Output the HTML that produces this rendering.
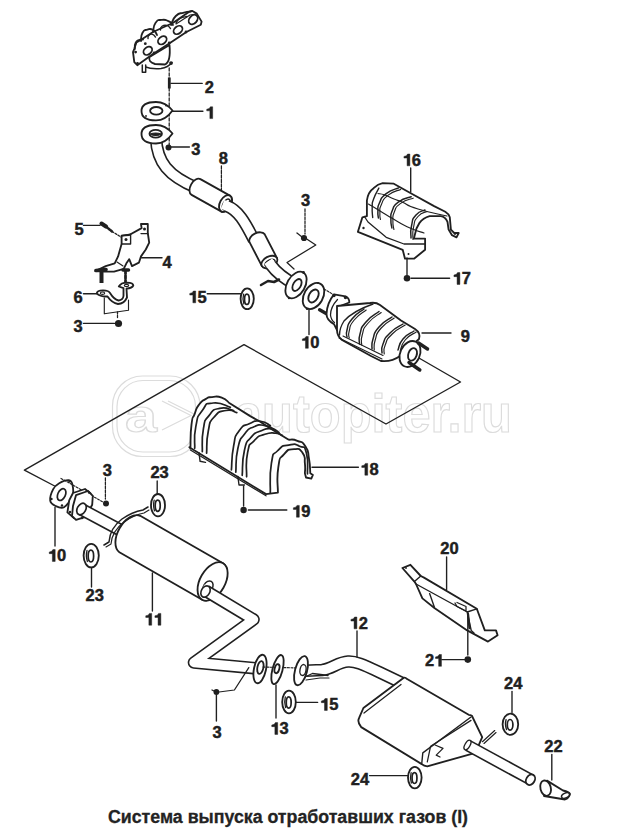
<!DOCTYPE html>
<html><head><meta charset="utf-8">
<style>
html,body{margin:0;padding:0;background:#fff;width:625px;height:832px;overflow:hidden}
svg{display:block}
.t{font-family:"Liberation Sans",sans-serif;font-weight:bold;fill:#202020;stroke:#202020;stroke-width:0.45;text-anchor:middle}
.wm{font-family:"Liberation Sans",sans-serif;font-weight:bold;fill:none;stroke:#dcdcdc;stroke-width:1.2}
</style></head><body>
<svg width="625" height="832" viewBox="0 0 625 832">
<rect x="112.5" y="376" width="87.5" height="80.5" rx="30" class="wm"/>
<rect x="117" y="380.5" width="78.5" height="71.5" rx="26" class="wm"/>
<text x="125" y="432" class="wm" font-size="46" textLength="32" lengthAdjust="spacingAndGlyphs">a</text>
<path d="M162 401 L191 415.5 L162 430 M168 401 L197 415.5" class="wm"/>
<text x="234" y="432" class="wm" font-size="54" textLength="278" lengthAdjust="spacingAndGlyphs">autopiter.ru</text>
<path d="M412.0 354.0 L460.5 382.0 L386.0 424.0 L244.0 344.6 L24.4 470.2 L57.5 487.5" fill="none" stroke="#202020" stroke-width="1.38" stroke-linejoin="round" stroke-linecap="round" />
<path d="M62.0 490.0 L76.0 500.0" fill="none" stroke="#202020" stroke-width="1.15" stroke-linejoin="round" stroke-linecap="round" stroke-dasharray="2 2" />
<path d="M149.5 57 Q148 62 155 64 L165 64.5 Q171 62 169.5 45 Z" fill="#fff" stroke="#202020" stroke-width="1.84" stroke-linejoin="round" stroke-linecap="round" />
<path d="M144 66.5 Q152 69.5 161 68.5 Q168 67.5 172 62.5" fill="none" stroke="#202020" stroke-width="1.49" stroke-linejoin="round" stroke-linecap="round" />
<circle cx="171" cy="63.1" r="1.9" fill="#202020"/>
<path d="M133.0 52.1 L134.3 48.8 L136.4 42.5 L141.5 39.5 L153.0 32.0 L172.8 23.0 L189.6 11.6 L192.0 10.8 L196.8 13.6 L201.6 21.6 L200.8 24.8 L186.4 32.0 L169.6 43.2 L153.3 53.8 L137.3 65.2 L134.3 62.2 Z" fill="#fff" stroke="#202020" stroke-width="1.84" stroke-linejoin="round" stroke-linecap="round" />
<path d="M134.8 49.0 C135.1 47.0 134.2 46.0 135.6 43.0 C137.0 40.0 136.5 41.2 139.0 40.0 C141.5 38.8 141.7 39.7 143.0 39.5" fill="none" stroke="#202020" stroke-width="1.84" stroke-linejoin="round" stroke-linecap="round" />
<path d="M141.0 41.0 C141.5 38.3 140.3 36.8 142.4 33.0 C144.5 29.2 143.8 30.6 147.4 29.6 C151.0 28.6 150.1 28.3 153.3 30.1 C156.5 31.9 155.8 33.4 157.0 35.0" fill="none" stroke="#202020" stroke-width="1.84" stroke-linejoin="round" stroke-linecap="round" />
<path d="M153.0 32.0 C153.9 28.9 152.7 26.7 155.6 22.7 C158.5 18.7 157.4 20.4 161.7 19.9 C166.0 19.4 164.6 19.5 168.4 21.2 C172.2 22.9 171.5 23.7 173.0 25.0" fill="none" stroke="#202020" stroke-width="1.84" stroke-linejoin="round" stroke-linecap="round" />
<path d="M171.0 25.0 C172.6 22.0 171.5 20.1 175.8 16.0 C180.1 11.9 178.9 14.1 184.0 12.6 C189.1 11.1 188.7 11.9 191.0 11.5" fill="none" stroke="#202020" stroke-width="1.84" stroke-linejoin="round" stroke-linecap="round" />
<path d="M148.0 38.5 C148.3 37.5 147.3 36.9 148.8 35.5 C150.3 34.1 150.2 33.8 152.4 34.3 C154.6 34.8 154.5 36.1 155.5 37.0" fill="none" stroke="#202020" stroke-width="1.38" stroke-linejoin="round" stroke-linecap="round" />
<path d="M160.5 30.0 C160.9 28.8 159.7 28.0 161.8 26.5 C163.9 25.0 163.8 24.7 166.7 25.4 C169.6 26.1 169.2 27.5 170.5 28.5" fill="none" stroke="#202020" stroke-width="1.38" stroke-linejoin="round" stroke-linecap="round" />
<path d="M176.0 23.0 C177.3 21.5 176.3 20.7 180.0 18.5 C183.7 16.3 184.7 17.2 187.0 16.5" fill="none" stroke="#202020" stroke-width="1.38" stroke-linejoin="round" stroke-linecap="round" />
<path d="M176.0 24.0 L190.0 15.0 L196.0 14.0" fill="none" stroke="#202020" stroke-width="1.15" stroke-linejoin="round" stroke-linecap="round" />
<ellipse cx="147.8" cy="50.8" rx="4.8" ry="3.5" transform="rotate(-40 147.8 50.8)" fill="#fff" stroke="#202020" stroke-width="1.84"/>
<ellipse cx="162.3" cy="40.3" rx="4.8" ry="3.5" transform="rotate(-40 162.3 40.3)" fill="#fff" stroke="#202020" stroke-width="1.84"/>
<ellipse cx="178" cy="30" rx="5" ry="3.5" transform="rotate(-40 178 30)" fill="#fff" stroke="#202020" stroke-width="1.84"/>
<ellipse cx="193.2" cy="19.6" rx="5.3" ry="3.8" transform="rotate(-50 193.2 19.6)" fill="#fff" stroke="#202020" stroke-width="1.84"/>
<circle cx="135.6" cy="52.1" r="1.4" fill="#202020"/>
<circle cx="145.3" cy="43.7" r="1.4" fill="#202020"/>
<circle cx="154.1" cy="53" r="1.4" fill="#202020"/>
<circle cx="169.2" cy="42.9" r="1.4" fill="#202020"/>
<circle cx="186" cy="32" r="1.4" fill="#202020"/>
<circle cx="137.5" cy="63.5" r="1.4" fill="#202020"/>
<path d="M142.3 65.0 L142.3 72.3 L145.7 72.3 L145.7 65.0" fill="#fff" stroke="#202020" stroke-width="1.49" stroke-linejoin="round" stroke-linecap="round" />
<path d="M169.2 68.0 L169.2 146.0" fill="none" stroke="#202020" stroke-width="1.26" stroke-linejoin="round" stroke-linecap="round" stroke-dasharray="3 2" />
<rect x="167.9" y="77.5" width="2.8" height="11" fill="#202020"/>
<path d="M171.0 83.4 L202.2 83.4" fill="none" stroke="#202020" stroke-width="1.38" stroke-linejoin="round" stroke-linecap="round" />
<text x="209.30" y="93" class="t" font-size="16.5">2</text>
<path d="M141.5 111 C141.5 104 148 102 156 102 C163 102 168 105 172.5 110.5 C168 117 163 120.4 156 120.4 C148 120.4 141.5 118 141.5 111 Z" fill="#fff" stroke="#202020" stroke-width="1.84" stroke-linejoin="round" stroke-linecap="round" />
<ellipse cx="156.3" cy="110.8" rx="6.2" ry="3.8" transform="rotate(0 156.3 110.8)" fill="#fff" stroke="#202020" stroke-width="1.84"/>
<circle cx="146" cy="116" r="0.9" fill="#202020"/>
<circle cx="166" cy="105.5" r="0.9" fill="#202020"/>
<path d="M172.5 111.2 L202.9 111.2" fill="none" stroke="#202020" stroke-width="1.38" stroke-linejoin="round" stroke-linecap="round" />
<path d="M212.67 106.80 L212.67 118.60 L209.87 118.60 L209.87 110.84 L206.73 110.84 L206.73 109.19 Q209.87 109.03 210.36 106.80 Z" fill="#202020" stroke="#202020" stroke-width="0.45"/>
<path d="M156 138 C157 162 168 176 197 188" fill="none" stroke="#202020" stroke-width="12.6" stroke-linejoin="round" stroke-linecap="butt"/>
<path d="M156 138 C157 162 168 176 197 188" fill="none" stroke="#fff" stroke-width="9.4" stroke-linejoin="round" stroke-linecap="square"/>
<path d="M141.5 134 C141.5 127 148 125 156 125 C163 125 168 128 172.5 133.5 C168 140 163 143.5 156 143.5 C148 143.5 141.5 141 141.5 134 Z" fill="#fff" stroke="#202020" stroke-width="1.84" stroke-linejoin="round" stroke-linecap="round" />
<ellipse cx="155.7" cy="133.8" rx="6.3" ry="3.9" transform="rotate(0 155.7 133.8)" fill="#fff" stroke="#202020" stroke-width="1.72"/>
<path d="M150 134 Q155.7 137 161.4 134 Q155.7 132 150 134 Z" fill="#202020" stroke="#202020" stroke-width="1.15" stroke-linejoin="round" stroke-linecap="round" />
<circle cx="168.5" cy="147.5" r="3" fill="#202020"/>
<path d="M171.0 147.0 L189.4 147.0" fill="none" stroke="#202020" stroke-width="1.38" stroke-linejoin="round" stroke-linecap="round" />
<text x="195.80" y="155" class="t" font-size="16.5">3</text>
<text x="223.40" y="164" class="t" font-size="16.5">8</text>
<path d="M221.4 166.0 L221.4 192.0" fill="none" stroke="#202020" stroke-width="1.26" stroke-linejoin="round" stroke-linecap="round" stroke-dasharray="3 1.5" />
<path d="M191.6 194.9 L221.1 211.4 A5.5 9 29.2 0 0 229.9 195.6 L200.4 179.1 A5.5 9 29.2 0 0 191.6 194.9 Z" fill="#fff" stroke="#202020" stroke-width="1.84" stroke-linejoin="round" stroke-linecap="round" />
<ellipse cx="225.5" cy="203.5" rx="5.5" ry="9" transform="rotate(29.21924669048461 225.5 203.5)" fill="#fff" stroke="#202020" stroke-width="1.84"/>
<ellipse cx="226.3" cy="204.5" rx="3.2" ry="6" transform="rotate(29.5 226.3 204.5)" fill="#fff" stroke="#202020" stroke-width="1.49"/>
<path d="M227 206 C238 210 245 222 254 240" fill="none" stroke="#202020" stroke-width="12.6" stroke-linejoin="round" stroke-linecap="butt"/>
<path d="M227 206 C238 210 245 222 254 240" fill="none" stroke="#fff" stroke-width="9.4" stroke-linejoin="round" stroke-linecap="square"/>
<path d="M249.4 241.9 L261.8 265.9 A5.5 8.6 62.7 0 0 277.0 258.1 L264.6 234.1 A5.5 8.6 62.7 0 0 249.4 241.9 Z" fill="#fff" stroke="#202020" stroke-width="1.84" stroke-linejoin="round" stroke-linecap="round" />
<ellipse cx="269.4" cy="262" rx="5.5" ry="8.6" transform="rotate(62.6761086986535 269.4 262)" fill="#fff" stroke="#202020" stroke-width="1.84"/>
<ellipse cx="270" cy="263" rx="3" ry="5.5" transform="rotate(62 270 263)" fill="#fff" stroke="#202020" stroke-width="1.49"/>
<path d="M271 265 C276 272 283 278 296 285" fill="none" stroke="#202020" stroke-width="12.6" stroke-linejoin="round" stroke-linecap="butt"/>
<path d="M271 265 C276 272 283 278 296 285" fill="none" stroke="#fff" stroke-width="9.4" stroke-linejoin="round" stroke-linecap="square"/>
<path d="M261 285 L268 281 L274 282 L279 279.5" fill="none" stroke="#202020" stroke-width="2.53" stroke-linejoin="round" stroke-linecap="round" />
<ellipse cx="296" cy="285" rx="9" ry="14.5" transform="rotate(30 296 285)" fill="#fff" stroke="#202020" stroke-width="1.84"/>
<ellipse cx="297" cy="285" rx="3.8" ry="6.5" transform="rotate(30 297 285)" fill="#fff" stroke="#202020" stroke-width="1.84"/>
<circle cx="303.5" cy="272.5" r="1.4" fill="#202020"/>
<circle cx="289" cy="298" r="1.2" fill="#202020"/>
<text x="305.60" y="206.3" class="t" font-size="16.5">3</text>
<path d="M305.0 209.0 L305.0 234.0" fill="none" stroke="#202020" stroke-width="1.26" stroke-linejoin="round" stroke-linecap="round" stroke-dasharray="2.5 1.5" />
<circle cx="304" cy="238" r="3.1" fill="#202020"/>
<path d="M297.0 233.0 L302.0 237.0" fill="none" stroke="#202020" stroke-width="1.26" stroke-linejoin="round" stroke-linecap="round" />
<path d="M306.7 239.0 L315.8 245.0 L287.0 262.5 L294.0 269.0" fill="none" stroke="#202020" stroke-width="1.26" stroke-linejoin="round" stroke-linecap="round" />
<ellipse cx="313.5" cy="296" rx="9.5" ry="14" transform="rotate(30 313.5 296)" fill="#fff" stroke="#202020" stroke-width="1.84"/>
<ellipse cx="313.5" cy="296" rx="4.5" ry="7" transform="rotate(30 313.5 296)" fill="#fff" stroke="#202020" stroke-width="1.84"/>
<circle cx="318" cy="283" r="1.1" fill="#202020"/>
<circle cx="307" cy="309" r="1.1" fill="#202020"/>
<path d="M309.0 310.0 L309.0 334.6" fill="none" stroke="#202020" stroke-width="1.38" stroke-linejoin="round" stroke-linecap="round" />
<path d="M308.29 336.50 L308.29 348.30 L305.48 348.30 L305.48 340.55 L302.35 340.55 L302.35 338.90 Q305.48 338.73 305.98 336.50 Z" fill="#202020" stroke="#202020" stroke-width="0.45"/>
<text x="314.79" y="348.3" class="t" font-size="16.5">0</text>
<ellipse cx="247.2" cy="298.8" rx="6.6" ry="10.4" transform="rotate(0 247.2 298.8)" fill="#fff" stroke="#202020" stroke-width="1.84"/>
<ellipse cx="246.89999999999998" cy="299.3" rx="2.376" ry="5.2" transform="rotate(0 246.89999999999998 299.3)" fill="#fff" stroke="#202020" stroke-width="1.72"/>
<path d="M243.6 294.1 Q242.2 298.8 243.9 304.0" fill="none" stroke="#202020" stroke-width="1.26" stroke-linejoin="round" stroke-linecap="round" />
<path d="M207.2 293.8 L241.0 293.8" fill="none" stroke="#202020" stroke-width="1.38" stroke-linejoin="round" stroke-linecap="round" />
<path d="M195.69 291.00 L195.69 302.80 L192.88 302.80 L192.88 295.05 L189.75 295.05 L189.75 293.40 Q192.88 293.23 193.38 291.00 Z" fill="#202020" stroke="#202020" stroke-width="0.45"/>
<text x="202.19" y="302.8" class="t" font-size="16.5">5</text>
<path d="M319.6 309.8 L327.0 314.0" fill="none" stroke="#202020" stroke-width="3.45" stroke-linejoin="round" stroke-linecap="round" />
<path d="M324.0 289.0 L334.0 295.0" fill="none" stroke="#202020" stroke-width="1.15" stroke-linejoin="round" stroke-linecap="round" stroke-dasharray="2 1.5" />
<path d="M334 294.4 L345.5 296.3 Q349.6 298.5 349.3 302.5 L340 306 L337 330 L334 324.1 Q326.5 320 326.5 314 Q327 303 334 294.4 Z" fill="#fff" stroke="#202020" stroke-width="1.84" stroke-linejoin="round" stroke-linecap="round" />
<path d="M337.5 299.5 Q330.5 307 330.5 315 Q331 320 334.5 322.5" fill="none" stroke="#202020" stroke-width="1.26" stroke-linejoin="round" stroke-linecap="round" />
<circle cx="334" cy="295.5" r="1.7" fill="#202020"/>
<circle cx="345.5" cy="297.5" r="1.7" fill="#202020"/>
<path d="M337 306 L370 303 Q376 302 380 305 L401 320.5 L415 329 Q421 333 419 339 L400 356 Q392 362 381 361 L371 356 L342 340 Q337 336 337 330 Z" fill="#fff" stroke="#202020" stroke-width="1.84" stroke-linejoin="round" stroke-linecap="round" />
<path d="M373 304 Q353 311 344 321 Q339.5 328 339.5 335" fill="none" stroke="#202020" stroke-width="1.38" stroke-linejoin="round" stroke-linecap="round" />
<path d="M364.0 309.0 C360.0 312.3 357.7 312.0 352.0 319.0 C346.3 326.0 348.7 324.0 347.0 330.0 C345.3 336.0 347.0 334.7 347.0 337.0" fill="none" stroke="#202020" stroke-width="1.49" stroke-linejoin="round" stroke-linecap="round" />
<path d="M366.2 310.0 C362.2 313.3 359.9 313.0 354.2 320.0 C348.5 327.0 350.9 325.0 349.2 331.0 C347.5 337.0 349.2 335.7 349.2 338.0" fill="none" stroke="#202020" stroke-width="1.15" stroke-linejoin="round" stroke-linecap="round" />
<path d="M379.0 311.5 C374.7 315.0 372.3 314.5 366.0 322.0 C359.7 329.5 362.2 326.7 360.0 334.0 C357.8 341.3 359.7 340.7 359.5 344.0" fill="none" stroke="#202020" stroke-width="1.49" stroke-linejoin="round" stroke-linecap="round" />
<path d="M381.2 312.5 C376.9 316.0 374.5 315.5 368.2 323.0 C361.9 330.5 364.4 327.7 362.2 335.0 C360.0 342.3 361.9 341.7 361.7 345.0" fill="none" stroke="#202020" stroke-width="1.15" stroke-linejoin="round" stroke-linecap="round" />
<path d="M392.0 317.0 C387.7 320.3 385.3 319.7 379.0 327.0 C372.7 334.3 375.3 331.7 373.0 339.0 C370.7 346.3 372.3 345.7 372.0 349.0" fill="none" stroke="#202020" stroke-width="1.49" stroke-linejoin="round" stroke-linecap="round" />
<path d="M394.2 318.0 C389.9 321.3 387.5 320.7 381.2 328.0 C374.9 335.3 377.5 332.7 375.2 340.0 C372.9 347.3 374.5 346.7 374.2 350.0" fill="none" stroke="#202020" stroke-width="1.15" stroke-linejoin="round" stroke-linecap="round" />
<path d="M403.0 324.0 C398.7 327.0 396.7 326.3 390.0 333.0 C383.3 339.7 385.7 337.3 383.0 344.0 C380.3 350.7 382.3 350.0 382.0 353.0" fill="none" stroke="#202020" stroke-width="1.49" stroke-linejoin="round" stroke-linecap="round" />
<path d="M405.2 325.0 C400.9 328.0 398.9 327.3 392.2 334.0 C385.5 340.7 387.9 338.3 385.2 345.0 C382.5 351.7 384.5 351.0 384.2 354.0" fill="none" stroke="#202020" stroke-width="1.15" stroke-linejoin="round" stroke-linecap="round" />
<path d="M414.0 331.0 C410.3 333.7 408.3 332.7 403.0 339.0 C397.7 345.3 399.7 346.3 398.0 350.0" fill="none" stroke="#202020" stroke-width="1.49" stroke-linejoin="round" stroke-linecap="round" />
<path d="M416.2 332.0 C412.5 334.7 410.5 333.7 405.2 340.0 C399.9 346.3 401.9 347.3 400.2 351.0" fill="none" stroke="#202020" stroke-width="1.15" stroke-linejoin="round" stroke-linecap="round" />
<path d="M339.0 338.0 L382.0 359.0" fill="none" stroke="#202020" stroke-width="1.15" stroke-linejoin="round" stroke-linecap="round" />
<path d="M343.0 336.0 L383.0 355.5" fill="none" stroke="#202020" stroke-width="1.15" stroke-linejoin="round" stroke-linecap="round" />
<ellipse cx="410" cy="354" rx="9.8" ry="13.5" transform="rotate(25 410 354)" fill="#fff" stroke="#202020" stroke-width="1.84"/>
<ellipse cx="412.5" cy="354.4" rx="4.2" ry="6.5" transform="rotate(20 412.5 354.4)" fill="#fff" stroke="#202020" stroke-width="1.84"/>
<path d="M418.5 343.0 L427.5 349.0" fill="none" stroke="#202020" stroke-width="3.45" stroke-linejoin="round" stroke-linecap="round" />
<path d="M409.0 362.5 L419.8 370.0" fill="none" stroke="#202020" stroke-width="3.45" stroke-linejoin="round" stroke-linecap="round" />
<path d="M422.0 333.0 L451.0 333.0" fill="none" stroke="#202020" stroke-width="1.38" stroke-linejoin="round" stroke-linecap="round" />
<text x="465.40" y="342.2" class="t" font-size="16.5">9</text>
<path d="M357.9 231.8 C357.9 231.8 362.4 217.3 362.4 217.3 C362.4 217.3 366.9 216.2 366.9 216.2 C366.9 216.2 366.9 200.5 366.9 200.5 Q368 192 373.6 188.2 Q378 184 382.6 183.2 L393.8 183.7 L411.7 193.8 L434.1 206.1 L445.3 211.7 Q449 214 449.8 217.3 L450.9 229.6 L454.2 233 L458.7 233 L456.5 237.4 L452 235.2 L448.6 229.6 L447.5 221.8 Q445 216.5 440.8 216.2 L429.6 216.2 Q423 218 419.5 222.9 Q416 228 415 234.1 L413.9 238.6 L425.1 238.6 L425.1 249.8 L414 258.7 L405 258.7 L402.7 249.8 Z" fill="#fff" stroke="#202020" stroke-width="1.84" stroke-linejoin="round" stroke-linecap="round" />
<path d="M378.9 188.0 C377.2 191.6 375.9 192.4 373.7 198.8 C371.5 205.2 372.5 200.9 372.2 207.1 C371.9 213.3 372.5 214.0 372.7 217.5" fill="none" stroke="#202020" stroke-width="1.38" stroke-linejoin="round" stroke-linecap="round" />
<path d="M398.7 187.9 C394.5 189.8 392.6 188.6 386.2 193.6 C379.8 198.6 382.2 197.1 379.4 203.0 C376.6 208.9 378.2 206.3 377.9 211.3 C377.6 216.3 378.2 215.8 378.4 218.0" fill="none" stroke="#202020" stroke-width="1.49" stroke-linejoin="round" stroke-linecap="round" />
<path d="M400.7 189.4 C396.5 191.3 394.6 190.1 388.2 195.1 C381.8 200.1 384.2 198.6 381.4 204.5 C378.6 210.4 380.2 207.8 379.9 212.8 C379.6 217.8 380.2 217.3 380.4 219.5" fill="none" stroke="#202020" stroke-width="1.15" stroke-linejoin="round" stroke-linecap="round" />
<path d="M411.2 196.7 C407.0 198.4 405.0 197.4 398.7 201.9 C392.4 206.4 395.0 204.3 392.4 210.2 C389.8 216.1 391.1 213.7 390.9 219.6 C390.7 225.5 391.6 225.2 391.9 228.0" fill="none" stroke="#202020" stroke-width="1.49" stroke-linejoin="round" stroke-linecap="round" />
<path d="M413.2 198.2 C409.0 199.9 407.0 198.9 400.7 203.4 C394.4 207.9 397.0 205.8 394.4 211.7 C391.8 217.6 393.1 215.2 392.9 221.1 C392.7 227.0 393.6 226.7 393.9 229.5" fill="none" stroke="#202020" stroke-width="1.15" stroke-linejoin="round" stroke-linecap="round" />
<path d="M425.0 210.0 C422.0 211.7 420.5 209.7 416.0 215.0 C411.5 220.3 413.2 218.3 411.5 226.0 C409.8 233.7 411.2 234.0 411.0 238.0" fill="none" stroke="#202020" stroke-width="1.49" stroke-linejoin="round" stroke-linecap="round" />
<path d="M427.0 211.5 C424.0 213.2 422.5 211.2 418.0 216.5 C413.5 221.8 415.2 219.8 413.5 227.5 C411.8 235.2 413.2 235.5 413.0 239.5" fill="none" stroke="#202020" stroke-width="1.15" stroke-linejoin="round" stroke-linecap="round" />
<path d="M378.0 193.5 C380.3 194.0 379.7 193.2 385.0 195.0 C390.3 196.8 388.3 196.7 394.0 199.0 C399.7 201.3 394.0 198.7 402.0 202.0 C410.0 205.3 403.0 204.3 418.0 209.0 C433.0 213.7 437.3 213.7 447.0 216.0" fill="none" stroke="#202020" stroke-width="1.15" stroke-linejoin="round" stroke-linecap="round" />
<path d="M368.5 204.0 C372.3 206.3 371.2 205.7 380.0 211.0 C388.8 216.3 385.0 214.3 395.0 220.0 C405.0 225.7 400.3 223.7 410.0 228.0 C419.7 232.3 419.3 231.3 424.0 233.0" fill="none" stroke="#202020" stroke-width="1.15" stroke-linejoin="round" stroke-linecap="round" />
<path d="M364.4 216.5 L368.0 222.0 L386.2 237.3 L404.0 244.0 L425.0 244.0" fill="none" stroke="#202020" stroke-width="1.26" stroke-linejoin="round" stroke-linecap="round" />
<circle cx="363.5" cy="228" r="1.2" fill="#202020"/>
<circle cx="408.5" cy="254" r="1.0" fill="#202020"/>
<circle cx="455" cy="234" r="1.0" fill="#202020"/>
<circle cx="407" cy="278.3" r="3.3" fill="#202020"/>
<path d="M407.0 258.0 L407.0 275.0" fill="none" stroke="#202020" stroke-width="1.38" stroke-linejoin="round" stroke-linecap="round" />
<path d="M411.0 278.3 L449.6 278.3" fill="none" stroke="#202020" stroke-width="1.38" stroke-linejoin="round" stroke-linecap="round" />
<path d="M459.89 272.60 L459.89 284.40 L457.08 284.40 L457.08 276.64 L453.95 276.64 L453.95 275.00 Q457.08 274.83 457.58 272.60 Z" fill="#202020" stroke="#202020" stroke-width="0.45"/>
<text x="466.39" y="284.4" class="t" font-size="16.5">7</text>
<path d="M410.7 168.0 L410.7 192.0" fill="none" stroke="#202020" stroke-width="1.38" stroke-linejoin="round" stroke-linecap="round" />
<path d="M409.89 154.00 L409.89 165.80 L407.08 165.80 L407.08 158.05 L403.95 158.05 L403.95 156.40 Q407.08 156.23 407.58 154.00 Z" fill="#202020" stroke="#202020" stroke-width="0.45"/>
<text x="416.39" y="165.8" class="t" font-size="16.5">6</text>
<path d="M83.5 225.4 L100.0 225.4" fill="none" stroke="#202020" stroke-width="1.38" stroke-linejoin="round" stroke-linecap="round" />
<text x="79.20" y="235" class="t" font-size="16.5">5</text>
<path d="M101.5 223.6 L106.0 226.5" fill="none" stroke="#202020" stroke-width="4.14" stroke-linejoin="round" stroke-linecap="round" />
<path d="M106.0 226.5 L112.0 231.5" fill="none" stroke="#202020" stroke-width="2.53" stroke-linejoin="round" stroke-linecap="round" stroke-dasharray="2 1" />
<path d="M112.0 231.5 L121.0 237.0" fill="none" stroke="#202020" stroke-width="1.26" stroke-linejoin="round" stroke-linecap="round" stroke-dasharray="2 1.5" />
<path d="M95.4 271 L105.7 266.1 L114.7 263.3 L118.1 256.4 L121.6 244 L121.6 235.7 L129.2 235 L141.6 228.1 L141 224 L147.8 224 L147.8 233 L149.2 242.6 L145.8 249.5 L141 256.4 L138.9 262.7 L132 266.1 L129.2 259.2 L126.4 263.3 L123.7 268.9 L114 271.6 L104.3 271.5 Z" fill="#fff" stroke="#202020" stroke-width="1.84" stroke-linejoin="round" stroke-linecap="round" />
<path d="M121.6 235.7 L130.6 234.3 L130.6 244.0 L121.6 244.0" fill="none" stroke="#202020" stroke-width="1.38" stroke-linejoin="round" stroke-linecap="round" />
<path d="M141.0 233.6 L147.8 233.6" fill="none" stroke="#202020" stroke-width="1.38" stroke-linejoin="round" stroke-linecap="round" />
<circle cx="126" cy="239.5" r="1.5" fill="#202020"/>
<circle cx="144.5" cy="229" r="1.5" fill="#202020"/>
<path d="M117.0 262.0 L123.0 266.0" fill="none" stroke="#202020" stroke-width="1.15" stroke-linejoin="round" stroke-linecap="round" />
<path d="M141.6 257.8 L162.0 257.8" fill="none" stroke="#202020" stroke-width="1.38" stroke-linejoin="round" stroke-linecap="round" />
<text x="167.20" y="267.6" class="t" font-size="16.5">4</text>
<path d="M96.0 270.5 L106.0 269.5" fill="none" stroke="#202020" stroke-width="3.68" stroke-linejoin="round" stroke-linecap="round" />
<rect x="99.5" y="271" width="4" height="12" fill="#202020"/>
<path d="M123.0 270.0 L128.5 270.0" fill="none" stroke="#202020" stroke-width="3.45" stroke-linejoin="round" stroke-linecap="round" />
<path d="M125.5 271.0 L125.5 287.0" fill="none" stroke="#202020" stroke-width="2.76" stroke-linejoin="round" stroke-linecap="round" stroke-dasharray="3 1.5" />
<path d="M83.5 293.7 L97.0 293.7" fill="none" stroke="#202020" stroke-width="1.38" stroke-linejoin="round" stroke-linecap="round" />
<text x="78.20" y="302.8" class="t" font-size="16.5">6</text>
<path d="M96.7 293.4 Q97 290.3 103 290.3 Q109 290.5 110 293 Q114 299.5 118.5 300.5 Q123 300 123.5 296 L123.5 288.2 L118.8 286.5 Q121 282.7 127 282.7 Q133.3 283 133.3 285.5 Q132 288.2 126.5 288.7 L127 297.5 Q124 304 118 304 Q112 303 107.5 296.5 Q100 296.8 96.7 293.4 Z" fill="#fff" stroke="#202020" stroke-width="1.84" stroke-linejoin="round" stroke-linecap="round" />
<ellipse cx="102.5" cy="293.2" rx="2.2" ry="1.2" transform="rotate(0 102.5 293.2)" fill="#fff" stroke="#202020" stroke-width="1.15"/>
<ellipse cx="126.5" cy="285.5" rx="2.2" ry="1.2" transform="rotate(0 126.5 285.5)" fill="#fff" stroke="#202020" stroke-width="1.15"/>
<path d="M104.3 297.9 L104.3 313.8 L128.5 310.3 L128.5 300.0" fill="none" stroke="#202020" stroke-width="1.15" stroke-linejoin="round" stroke-linecap="round" />
<path d="M117.5 312.0 L117.5 319.0" fill="none" stroke="#202020" stroke-width="1.26" stroke-linejoin="round" stroke-linecap="round" stroke-dasharray="2 1.5" />
<circle cx="118.5" cy="323.5" r="3.6" fill="#202020"/>
<path d="M83.5 323.4 L114.5 323.4" fill="none" stroke="#202020" stroke-width="1.38" stroke-linejoin="round" stroke-linecap="round" />
<text x="78.20" y="331.6" class="t" font-size="16.5">3</text>
<path d="M190.4 448.3 C190.8 440.4 190.0 436.1 191.5 424.6 C192.9 413.0 192.2 420.4 194.7 413.8 C197.2 407.1 195.4 409.6 199.0 404.7 C202.6 399.8 201.2 401.6 205.5 399.1 C209.8 396.6 206.6 397.6 212.0 397.1 C217.4 396.6 216.0 395.6 221.7 397.6 C227.5 399.5 226.8 401.2 229.3 403.0 L249.8 415.9 L259.5 421.3 L269.2 427.8 L288.7 439.7  C291.6 440.0 291.7 438.5 297.3 440.8 C302.9 443.1 301.6 440.6 305.5 446.6 C309.4 452.6 307.4 449.8 309.0 458.7 C310.6 467.5 309.8 468.3 310.3 473.2 L312.9 474.9 L311.3 478.6 L306.0 477.5 L304.9 473.2  C304.9 469.9 305.6 470.1 304.9 463.4 C304.2 456.7 306.3 457.8 302.7 453.1 C299.1 448.3 300.3 448.7 294.1 449.2 C287.8 449.6 289.2 448.3 283.9 454.4 C278.7 460.4 280.3 454.6 278.3 467.3 C276.3 480.1 278.0 484.2 277.9 492.6 L266.0 494.1 L189.3 447.2 Z" fill="#fff" stroke="#202020" stroke-width="1.84" stroke-linejoin="round" stroke-linecap="round" />
<path d="M194.7 448.3 C195.1 441.1 193.3 439.3 195.8 426.7 C198.3 414.1 196.5 418.4 202.3 410.5 C208.0 402.6 203.7 404.0 213.1 403.0 C222.4 401.9 224.6 405.8 230.4 407.3" fill="none" stroke="#202020" stroke-width="1.72" stroke-linejoin="round" stroke-linecap="round" />
<path d="M202.3 451.6 C202.6 444.0 201.2 440.8 203.4 428.9 C205.5 417.0 203.4 422.8 208.8 415.9 C214.2 409.1 211.3 410.2 219.6 408.4 C227.8 406.6 228.9 409.8 233.6 410.5" fill="none" stroke="#202020" stroke-width="1.72" stroke-linejoin="round" stroke-linecap="round" />
<path d="M206.6 453.1 C207.2 445.7 205.8 443.1 208.3 431.0 C210.8 419.0 208.3 423.8 214.2 417.0 C220.1 410.2 218.5 412.0 226.0 410.5 C233.6 409.1 233.2 412.0 236.8 412.7" fill="none" stroke="#202020" stroke-width="1.72" stroke-linejoin="round" stroke-linecap="round" />
<path d="M231.4 469.9 C232.2 462.0 231.1 459.1 233.6 446.2 C236.1 433.2 233.6 438.6 239.0 431.0 C244.4 423.5 242.6 426.7 249.8 423.5 C257.0 420.2 253.8 420.6 260.6 421.3 C267.4 422.0 267.1 424.2 270.3 425.6" fill="none" stroke="#202020" stroke-width="1.72" stroke-linejoin="round" stroke-linecap="round" />
<path d="M235.8 472.1 C236.5 464.2 235.0 460.9 237.9 448.3 C240.8 435.7 239.0 441.5 244.4 434.3 C249.8 427.1 247.3 429.6 254.1 426.7 C261.0 423.8 258.4 424.9 264.9 425.6 C271.4 426.4 270.7 427.8 273.6 428.9" fill="none" stroke="#202020" stroke-width="1.72" stroke-linejoin="round" stroke-linecap="round" />
<path d="M242.2 475.3 C243.0 467.0 241.5 463.1 244.4 450.5 C247.3 437.9 245.5 444.0 250.9 437.5 C256.3 431.0 253.8 433.9 260.6 431.0 C267.4 428.2 265.3 428.4 271.4 428.9 C277.5 429.4 276.4 431.3 279.0 432.5" fill="none" stroke="#202020" stroke-width="1.72" stroke-linejoin="round" stroke-linecap="round" />
<path d="M246.6 476.8 C246.9 468.8 245.1 464.7 247.6 452.6 C250.2 440.6 248.4 446.9 254.1 440.8 C259.9 434.6 257.7 436.8 264.9 434.3 C272.1 431.8 270.0 432.8 275.7 433.2 C281.5 433.6 280.0 434.6 282.2 435.4" fill="none" stroke="#202020" stroke-width="1.72" stroke-linejoin="round" stroke-linecap="round" />
<path d="M270.3 493.2 C270.7 483.3 268.9 477.7 271.4 463.4 C273.9 449.2 272.1 456.6 277.9 450.5 C283.6 444.4 281.5 446.5 288.7 445.1 C295.9 443.6 293.6 443.5 299.5 446.2 C305.4 448.8 303.7 443.9 306.4 453.1 C309.0 462.3 307.1 466.9 307.5 473.8" fill="none" stroke="#202020" stroke-width="1.72" stroke-linejoin="round" stroke-linecap="round" />
<path d="M190.4 450.0 L266.0 495.8" fill="none" stroke="#202020" stroke-width="1.26" stroke-linejoin="round" stroke-linecap="round" />
<path d="M199.0 452.6 L200.1 461.3 L205.5 462.4" fill="none" stroke="#202020" stroke-width="1.38" stroke-linejoin="round" stroke-linecap="round" />
<path d="M237.9 476.4 L239.0 485.0 L244.4 485.0" fill="none" stroke="#202020" stroke-width="1.38" stroke-linejoin="round" stroke-linecap="round" />
<path d="M312.0 467.2 L358.4 467.2" fill="none" stroke="#202020" stroke-width="1.38" stroke-linejoin="round" stroke-linecap="round" />
<path d="M367.69 463.40 L367.69 475.20 L364.88 475.20 L364.88 467.44 L361.75 467.44 L361.75 465.80 Q364.88 465.63 365.38 463.40 Z" fill="#202020" stroke="#202020" stroke-width="0.45"/>
<text x="374.19" y="475.2" class="t" font-size="16.5">8</text>
<circle cx="243.6" cy="510" r="3.2" fill="#202020"/>
<path d="M243.6 486.0 L243.6 506.0" fill="none" stroke="#202020" stroke-width="1.38" stroke-linejoin="round" stroke-linecap="round" />
<path d="M248.4 510.0 L286.8 510.0" fill="none" stroke="#202020" stroke-width="1.38" stroke-linejoin="round" stroke-linecap="round" />
<path d="M299.29 505.40 L299.29 517.20 L296.48 517.20 L296.48 509.45 L293.35 509.45 L293.35 507.80 Q296.48 507.63 296.98 505.40 Z" fill="#202020" stroke="#202020" stroke-width="0.45"/>
<text x="305.79" y="517.2" class="t" font-size="16.5">9</text>
<path d="M53.2 489.2 C54.7 486.3 56.6 484.7 59.2 483.2 C61.8 481.7 66.6 480.0 68.8 480.2 C71.0 480.4 71.8 481.7 72.4 484.4 C73.0 487.1 73.8 492.6 72.4 496.4 C71.0 500.2 66.8 505.6 64.0 507.2 C61.2 508.8 57.9 507.1 55.6 506.0 C53.3 504.9 50.6 503.4 50.2 500.6 C49.8 497.8 51.7 492.1 53.2 489.2 Z" fill="#fff" stroke="#202020" stroke-width="1.84" stroke-linejoin="round" stroke-linecap="round" />
<ellipse cx="61.6" cy="494.6" rx="3.8" ry="6.2" transform="rotate(25 61.6 494.6)" fill="#fff" stroke="#202020" stroke-width="1.72"/>
<circle cx="69.5" cy="481.5" r="1.3" fill="#202020"/>
<circle cx="51.5" cy="499" r="1.2" fill="#202020"/>
<circle cx="62" cy="505.5" r="1.2" fill="#202020"/>
<path d="M55.0 507.5 L55.0 546.0" fill="none" stroke="#202020" stroke-width="1.38" stroke-linejoin="round" stroke-linecap="round" />
<path d="M55.19 549.60 L55.19 561.40 L52.38 561.40 L52.38 553.64 L49.25 553.64 L49.25 552.00 Q52.38 551.83 52.88 549.60 Z" fill="#202020" stroke="#202020" stroke-width="0.45"/>
<text x="61.69" y="561.4" class="t" font-size="16.5">0</text>
<path d="M61.0 478.4 L103.0 502.0" fill="none" stroke="#202020" stroke-width="1.15" stroke-linejoin="round" stroke-linecap="round" stroke-dasharray="2 1.5" />
<path d="M73.0 493.0 L85.0 489.0 L90.5 493.5 L90.0 503.0 L83.6 515.0 L74.0 518.0 L67.4 512.4 L69.2 500.4 Z" fill="#fff" stroke="#202020" stroke-width="1.84" stroke-linejoin="round" stroke-linecap="round" />
<path d="M76.0 495.2 L88.0 491.0 L92.8 495.8 L92.2 504.8 L85.6 516.8 L76.0 519.8 L72.0 516.0 L73.0 506.0 Z" fill="#fff" stroke="#202020" stroke-width="1.84" stroke-linejoin="round" stroke-linecap="round" />
<path d="M81 509 L122 531" fill="none" stroke="#202020" stroke-width="12.9" stroke-linejoin="round" stroke-linecap="butt"/>
<path d="M81 509 L122 531" fill="none" stroke="#fff" stroke-width="9.700000000000001" stroke-linejoin="round" stroke-linecap="square"/>
<ellipse cx="81.5" cy="509" rx="4.2" ry="6.2" transform="rotate(30 81.5 509)" fill="#fff" stroke="#202020" stroke-width="1.72"/>
<circle cx="89" cy="492.5" r="1.2" fill="#202020"/>
<circle cx="70" cy="512" r="1.2" fill="#202020"/>
<circle cx="82" cy="518" r="1.2" fill="#202020"/>
<circle cx="106" cy="503.6" r="3.0" fill="#202020"/>
<path d="M105.4 478.0 L105.4 499.0" fill="none" stroke="#202020" stroke-width="1.26" stroke-linejoin="round" stroke-linecap="round" stroke-dasharray="2.5 1.5" />
<text x="107.30" y="476.4" class="t" font-size="16.5">3</text>
<ellipse cx="158" cy="505.2" rx="7" ry="11.2" transform="rotate(0 158 505.2)" fill="#fff" stroke="#202020" stroke-width="1.84"/>
<ellipse cx="157.7" cy="505.7" rx="2.52" ry="5.6" transform="rotate(0 157.7 505.7)" fill="#fff" stroke="#202020" stroke-width="1.72"/>
<path d="M154.2 500.2 Q152.8 505.2 154.5 510.8" fill="none" stroke="#202020" stroke-width="1.26" stroke-linejoin="round" stroke-linecap="round" />
<path d="M157.2 481.0 L157.2 494.0" fill="none" stroke="#202020" stroke-width="1.38" stroke-linejoin="round" stroke-linecap="round" />
<text x="155.01" y="477.8" class="t" font-size="16.5">2</text>
<text x="164.19" y="477.8" class="t" font-size="16.5">3</text>
<ellipse cx="91.2" cy="555.6" rx="7.6" ry="11.8" transform="rotate(0 91.2 555.6)" fill="#fff" stroke="#202020" stroke-width="1.84"/>
<ellipse cx="90.9" cy="556.1" rx="2.7359999999999998" ry="5.9" transform="rotate(0 90.9 556.1)" fill="#fff" stroke="#202020" stroke-width="1.72"/>
<path d="M87.0 550.3 Q85.5 555.6 87.4 561.5" fill="none" stroke="#202020" stroke-width="1.26" stroke-linejoin="round" stroke-linecap="round" />
<path d="M91.5 568.0 L91.5 587.0" fill="none" stroke="#202020" stroke-width="1.38" stroke-linejoin="round" stroke-linecap="round" />
<text x="90.21" y="601.2" class="t" font-size="16.5">2</text>
<text x="99.39" y="601.2" class="t" font-size="16.5">3</text>
<path d="M119.4 552.2 L202.2 599.7 A12.5 21 29.8 0 0 223.0 563.3 L140.2 515.8 A12.5 21 29.8 0 0 119.4 552.2 Z" fill="#fff" stroke="#202020" stroke-width="1.84" stroke-linejoin="round" stroke-linecap="round" />
<ellipse cx="212.6" cy="581.5" rx="12.5" ry="21" transform="rotate(29.841664616229412 212.6 581.5)" fill="#fff" stroke="#202020" stroke-width="1.84"/>
<ellipse cx="208" cy="587" rx="4.5" ry="6.5" transform="rotate(30 208 587)" fill="#fff" stroke="#202020" stroke-width="1.49"/>
<path d="M104 545 L109 542 Q110 528 122 519 Q132 512 143 510 L148 507" fill="none" stroke="#202020" stroke-width="1.49" stroke-linejoin="round" stroke-linecap="round" />
<path d="M106 547 L111 544 Q112 531 124 522 Q134 515 144 513 L149 510" fill="none" stroke="#202020" stroke-width="1.15" stroke-linejoin="round" stroke-linecap="round" />
<path d="M152.4 573.0 L152.4 611.0" fill="none" stroke="#202020" stroke-width="1.38" stroke-linejoin="round" stroke-linecap="round" />
<path d="M151.69 613.40 L151.69 625.20 L148.88 625.20 L148.88 617.45 L145.75 617.45 L145.75 615.80 Q148.88 615.63 149.38 613.40 Z" fill="#202020" stroke="#202020" stroke-width="0.45"/>
<path d="M160.86 613.40 L160.86 625.20 L158.06 625.20 L158.06 617.45 L154.92 617.45 L154.92 615.80 Q158.06 615.63 158.55 613.40 Z" fill="#202020" stroke="#202020" stroke-width="0.45"/>
<path d="M206 591 L253.5 619.5 L194 662.5 L258 668.5" fill="none" stroke="#202020" stroke-width="12.6" stroke-linejoin="round" stroke-linecap="butt"/>
<path d="M206 591 L253.5 619.5 L194 662.5 L258 668.5" fill="none" stroke="#fff" stroke-width="9.4" stroke-linejoin="round" stroke-linecap="square"/>
<ellipse cx="205.5" cy="591.5" rx="4.2" ry="6" transform="rotate(30 205.5 591.5)" fill="#fff" stroke="#202020" stroke-width="1.61"/>
<ellipse cx="260" cy="669" rx="6" ry="14.5" transform="rotate(12 260 669)" fill="#fff" stroke="#202020" stroke-width="1.84"/>
<ellipse cx="260.4" cy="667.5" rx="3" ry="6.5" transform="rotate(12 260.4 667.5)" fill="#fff" stroke="#202020" stroke-width="1.84"/>
<path d="M263.0 667.0 L298.0 668.0" fill="none" stroke="#202020" stroke-width="1.15" stroke-linejoin="round" stroke-linecap="round" stroke-dasharray="2 1.5" />
<ellipse cx="277.5" cy="669.6" rx="5" ry="15" transform="rotate(15 277.5 669.6)" fill="#fff" stroke="#202020" stroke-width="1.84"/>
<ellipse cx="277" cy="668.7" rx="2.3" ry="4.6" transform="rotate(15 277 668.7)" fill="#fff" stroke="#202020" stroke-width="1.84"/>
<path d="M300 671 L322 670 C332 669 338 662 348 661.5 C355 661 362 664 380 672.5 L404 684" fill="none" stroke="#202020" stroke-width="12.6" stroke-linejoin="round" stroke-linecap="butt"/>
<path d="M300 671 L322 670 C332 669 338 662 348 661.5 C355 661 362 664 380 672.5 L404 684" fill="none" stroke="#fff" stroke-width="9.4" stroke-linejoin="round" stroke-linecap="square"/>
<ellipse cx="301" cy="670.7" rx="6" ry="15" transform="rotate(15 301 670.7)" fill="#fff" stroke="#202020" stroke-width="1.84"/>
<ellipse cx="303" cy="670" rx="3" ry="5.5" transform="rotate(10 303 670)" fill="#fff" stroke="#202020" stroke-width="1.38"/>
<path d="M305.0 677.0 L312.4 673.5 L320.7 674.5 L328.0 675.5" fill="none" stroke="#202020" stroke-width="1.38" stroke-linejoin="round" stroke-linecap="round" />
<path d="M306.0 680.0 L320.0 678.0 L329.0 678.0" fill="none" stroke="#202020" stroke-width="1.15" stroke-linejoin="round" stroke-linecap="round" />
<path d="M357.0 631.0 L357.0 657.0" fill="none" stroke="#202020" stroke-width="1.38" stroke-linejoin="round" stroke-linecap="round" />
<path d="M356.89 617.00 L356.89 628.80 L354.08 628.80 L354.08 621.04 L350.95 621.04 L350.95 619.39 Q354.08 619.23 354.58 617.00 Z" fill="#202020" stroke="#202020" stroke-width="0.45"/>
<text x="363.39" y="628.8" class="t" font-size="16.5">2</text>
<circle cx="216.4" cy="692" r="2.9" fill="#202020"/>
<path d="M212.0 690.0 L214.0 691.0" fill="none" stroke="#202020" stroke-width="1.26" stroke-linejoin="round" stroke-linecap="round" />
<path d="M219.0 692.0 L234.4 690.0 L248.8 667.6" fill="none" stroke="#202020" stroke-width="1.26" stroke-linejoin="round" stroke-linecap="round" />
<path d="M216.4 695.0 L216.4 721.0" fill="none" stroke="#202020" stroke-width="1.38" stroke-linejoin="round" stroke-linecap="round" />
<text x="217.20" y="737.6" class="t" font-size="16.5">3</text>
<path d="M276.0 685.0 L276.0 718.0" fill="none" stroke="#202020" stroke-width="1.38" stroke-linejoin="round" stroke-linecap="round" />
<path d="M277.69 722.60 L277.69 734.40 L274.88 734.40 L274.88 726.64 L271.75 726.64 L271.75 725.00 Q274.88 724.83 275.38 722.60 Z" fill="#202020" stroke="#202020" stroke-width="0.45"/>
<text x="284.19" y="734.4" class="t" font-size="16.5">3</text>
<ellipse cx="289" cy="702" rx="6.8" ry="11.3" transform="rotate(0 289 702)" fill="#fff" stroke="#202020" stroke-width="1.84"/>
<ellipse cx="288.7" cy="702.5" rx="2.448" ry="5.65" transform="rotate(0 288.7 702.5)" fill="#fff" stroke="#202020" stroke-width="1.72"/>
<path d="M285.3 696.9 Q283.9 702.0 285.6 707.6" fill="none" stroke="#202020" stroke-width="1.26" stroke-linejoin="round" stroke-linecap="round" />
<path d="M295.8 702.4 L317.6 702.4" fill="none" stroke="#202020" stroke-width="1.38" stroke-linejoin="round" stroke-linecap="round" />
<path d="M327.29 698.60 L327.29 710.40 L324.48 710.40 L324.48 702.64 L321.35 702.64 L321.35 701.00 Q324.48 700.83 324.98 698.60 Z" fill="#202020" stroke="#202020" stroke-width="0.45"/>
<text x="333.79" y="710.4" class="t" font-size="16.5">5</text>
<path d="M403.8 677.8 Q405 677 407.1 679 L468.7 714.8 Q472 715 472 716 L482.2 737.2 L475.4 752.9 L427.3 766.3 Q424 766 421.7 764.1 L361.2 727.1 Q357 722 359 718.2 L363.4 708 Z" fill="#fff" stroke="#202020" stroke-width="1.84" stroke-linejoin="round" stroke-linecap="round" />
<path d="M364.0 713.0 L401.0 684.5" fill="none" stroke="#202020" stroke-width="1.26" stroke-linejoin="round" stroke-linecap="round" />
<path d="M421.7 764.1 L422.8 752.9 L471.0 717.0" fill="none" stroke="#202020" stroke-width="1.38" stroke-linejoin="round" stroke-linecap="round" />
<path d="M427.3 761.8 L430.6 746.2 L471.0 720.4" fill="none" stroke="#202020" stroke-width="1.26" stroke-linejoin="round" stroke-linecap="round" />
<path d="M435.1 745.0 L443.0 748.4 L436.2 755.1 L440.0 757.0" fill="none" stroke="#202020" stroke-width="1.26" stroke-linejoin="round" stroke-linecap="round" />
<path d="M468 745.5 L530.5 779.5" fill="none" stroke="#202020" stroke-width="12.1" stroke-linejoin="round" stroke-linecap="butt"/>
<path d="M468 745.5 L530.5 779.5" fill="none" stroke="#fff" stroke-width="8.9" stroke-linejoin="round" stroke-linecap="square"/>
<ellipse cx="467.5" cy="745" rx="2.5" ry="5.3" transform="rotate(30 467.5 745)" fill="#fff" stroke="#202020" stroke-width="1.38"/>
<ellipse cx="530.5" cy="779.7" rx="4.2" ry="5.6" transform="rotate(30 530.5 779.7)" fill="#fff" stroke="#202020" stroke-width="1.84"/>
<path d="M482.4 741.7 L494.7 730.5" fill="none" stroke="#202020" stroke-width="1.15" stroke-linejoin="round" stroke-linecap="round" />
<path d="M484.0 743.5 L496.0 732.5" fill="none" stroke="#202020" stroke-width="1.15" stroke-linejoin="round" stroke-linecap="round" />
<ellipse cx="510.4" cy="724.3" rx="7.8" ry="10.6" transform="rotate(0 510.4 724.3)" fill="#fff" stroke="#202020" stroke-width="1.84"/>
<ellipse cx="510.09999999999997" cy="724.8" rx="2.808" ry="5.3" transform="rotate(0 510.09999999999997 724.8)" fill="#fff" stroke="#202020" stroke-width="1.72"/>
<path d="M506.1 719.5 Q504.5 724.3 506.5 729.6" fill="none" stroke="#202020" stroke-width="1.26" stroke-linejoin="round" stroke-linecap="round" />
<path d="M512.0 691.5 L512.0 712.6" fill="none" stroke="#202020" stroke-width="1.38" stroke-linejoin="round" stroke-linecap="round" />
<text x="508.61" y="689" class="t" font-size="16.5">2</text>
<text x="517.79" y="689" class="t" font-size="16.5">4</text>
<ellipse cx="414.8" cy="777.6" rx="6.8" ry="10.8" transform="rotate(0 414.8 777.6)" fill="#fff" stroke="#202020" stroke-width="1.84"/>
<ellipse cx="414.5" cy="778.1" rx="2.448" ry="5.4" transform="rotate(0 414.5 778.1)" fill="#fff" stroke="#202020" stroke-width="1.72"/>
<path d="M411.1 772.7 Q409.7 777.6 411.4 783.0" fill="none" stroke="#202020" stroke-width="1.26" stroke-linejoin="round" stroke-linecap="round" />
<path d="M369.6 775.6 L408.0 775.6" fill="none" stroke="#202020" stroke-width="1.38" stroke-linejoin="round" stroke-linecap="round" />
<text x="355.41" y="785.2" class="t" font-size="16.5">2</text>
<text x="364.59" y="785.2" class="t" font-size="16.5">4</text>
<path d="M547 780.6 L563 790.5 Q569 792 570 794 Q569 798 565 799.5 L544 796 Z" fill="#fff" stroke="#202020" stroke-width="1.84" stroke-linejoin="round" stroke-linecap="round" />
<ellipse cx="545.6" cy="788.2" rx="5.2" ry="7.8" transform="rotate(-15 545.6 788.2)" fill="#fff" stroke="#202020" stroke-width="1.84"/>
<ellipse cx="565.5" cy="795.5" rx="4.2" ry="2.4" transform="rotate(-25 565.5 795.5)" fill="#fff" stroke="#202020" stroke-width="1.49"/>
<path d="M551.8 754.5 L551.8 780.0" fill="none" stroke="#202020" stroke-width="1.38" stroke-linejoin="round" stroke-linecap="round" />
<text x="548.91" y="751.8" class="t" font-size="16.5">2</text>
<text x="558.09" y="751.8" class="t" font-size="16.5">2</text>
<path d="M402.4 568 L410.4 564.8 L420.8 576 L424 577.6 L476.8 608.8 L484.8 630.4 L496 630.4 L497.6 635.2 L488 641.6 L467.2 630.4 L434.4 608 L422.4 598.4 L416 584 L414.4 581.6 Z" fill="#fff" stroke="#202020" stroke-width="1.84" stroke-linejoin="round" stroke-linecap="round" />
<path d="M414.4 581.6 L420.8 576.0" fill="none" stroke="#202020" stroke-width="1.38" stroke-linejoin="round" stroke-linecap="round" />
<path d="M416.0 584.0 L467.2 612.0 L476.8 608.8" fill="none" stroke="#202020" stroke-width="1.38" stroke-linejoin="round" stroke-linecap="round" />
<path d="M467.2 612.0 L471.2 630.4 L474.0 633.0" fill="none" stroke="#202020" stroke-width="1.38" stroke-linejoin="round" stroke-linecap="round" />
<path d="M429.6 593.6 L434.4 607.2" fill="none" stroke="#202020" stroke-width="1.38" stroke-linejoin="round" stroke-linecap="round" />
<path d="M455.0 603.0 L457.0 606.5 L466.0 611.0 L466.0 606.5 L457.0 602.5" fill="none" stroke="#202020" stroke-width="1.26" stroke-linejoin="round" stroke-linecap="round" />
<path d="M468.0 614.0 L469.5 628.0" fill="none" stroke="#202020" stroke-width="2.30" stroke-linejoin="round" stroke-linecap="round" />
<circle cx="406" cy="568" r="0.9" fill="#202020"/>
<path d="M446.6 557.0 L446.6 589.5" fill="none" stroke="#202020" stroke-width="1.38" stroke-linejoin="round" stroke-linecap="round" />
<text x="444.91" y="554" class="t" font-size="16.5">2</text>
<text x="454.09" y="554" class="t" font-size="16.5">0</text>
<circle cx="467.8" cy="659.6" r="3.3" fill="#202020"/>
<path d="M467.8 612.0 L467.8 655.0" fill="none" stroke="#202020" stroke-width="1.38" stroke-linejoin="round" stroke-linecap="round" />
<path d="M441.8 659.6 L464.9 659.6" fill="none" stroke="#202020" stroke-width="1.38" stroke-linejoin="round" stroke-linecap="round" />
<text x="429.61" y="666.3" class="t" font-size="16.5">2</text>
<path d="M441.46 654.50 L441.46 666.30 L438.65 666.30 L438.65 658.54 L435.52 658.54 L435.52 656.89 Q438.65 656.73 439.15 654.50 Z" fill="#202020" stroke="#202020" stroke-width="0.45"/>
<text x="108" y="823" font-family="Liberation Sans, sans-serif" font-weight="bold" font-size="17.5" fill="#232323" stroke="#232323" stroke-width="0.3" textLength="360" lengthAdjust="spacingAndGlyphs">Система выпуска отработавших газов (I)</text></svg>
</body></html>
